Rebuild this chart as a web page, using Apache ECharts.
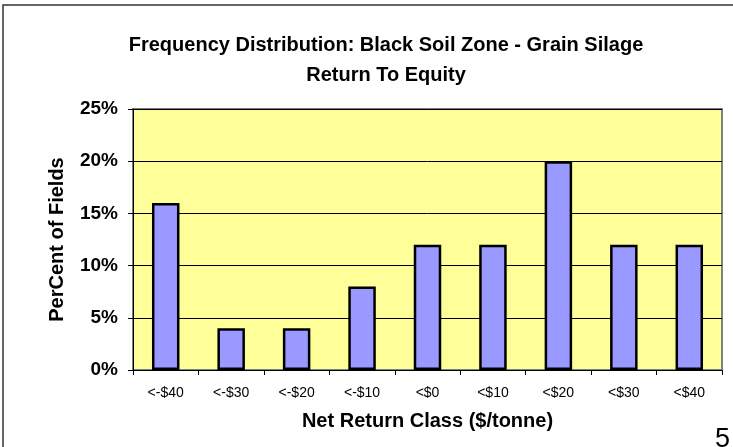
<!DOCTYPE html>
<html><head><meta charset="utf-8">
<script src="https://cdn.jsdelivr.net/npm/echarts@6/dist/echarts.min.js"></script>
<style>html,body{margin:0;padding:0;background:#fff}#c{width:733px;height:447px}</style>
</head><body><div id="c"></div>
<script>
var categories = ['<-$40','<-$30','<-$20','<-$10','<$0','<$10','<$20','<$30','<$40'];
var percentValues = [16, 4, 4, 8, 12, 12, 20, 12, 12];
var titleLines = ['Frequency Distribution: Black Soil Zone - Grain Silage', 'Return To Equity'];
var pageNumber = '5';

var chart = echarts.init(document.getElementById('c'), null, {renderer: 'canvas'});
var font = 'Arial, "Liberation Sans", sans-serif';
chart.setOption({
  backgroundColor: '#ffffff',
  animation: false,
  graphic: [
    {type: 'polyline', shape: {points: [[3, 447], [3, 5], [733, 5]]}, style: {stroke: '#333', lineWidth: 1.5, fill: null}, silent: true},
    {type: 'text', left: 715, top: 426, style: {text: pageNumber, font: '27px ' + font, fill: '#000'}}
  ],
  title: {
    text: titleLines.join('\n'),
    left: 381, top: 25, textAlign: 'center',
    textStyle: {fontFamily: font, fontWeight: 'bold', fontSize: 20, lineHeight: 30, color: '#000'}
  },
  grid: {left: 133, right: 11, top: 109, bottom: 77, show: true, backgroundColor: '#FFFF99', borderColor: '#808080', borderWidth: 2},
  xAxis: {
    type: 'category', data: categories,
    name: 'Net Return Class ($/tonne)', nameLocation: 'middle', nameGap: 41,
    nameTextStyle: {fontFamily: font, fontWeight: 'bold', fontSize: 20, color: '#000'},
    axisLine: {lineStyle: {color: '#000', width: 1}},
    axisTick: {show: true, alignWithLabel: false, length: 5, lineStyle: {color: '#000'}},
    axisLabel: {fontFamily: font, fontSize: 14, color: '#000', margin: 16}
  },
  yAxis: {
    type: 'value', min: 0, max: 25, interval: 5,
    name: 'PerCent of Fields', nameLocation: 'middle', nameGap: 66, nameRotate: 90,
    nameTextStyle: {fontFamily: font, fontWeight: 'bold', fontSize: 20, color: '#000'},
    axisLine: {show: true, lineStyle: {color: '#000', width: 1}},
    axisTick: {show: true, length: 5, lineStyle: {color: '#000'}},
    axisLabel: {formatter: '{value}%', fontFamily: font, fontWeight: 'bold', fontSize: 19, color: '#000', margin: 15},
    splitLine: {lineStyle: {color: '#000', width: 1}}
  },
  series: [{
    type: 'bar', data: percentValues, barWidth: '42%',
    itemStyle: {color: '#9999FF', borderColor: '#000', borderWidth: 2.5}
  }]
});
</script></body></html>
